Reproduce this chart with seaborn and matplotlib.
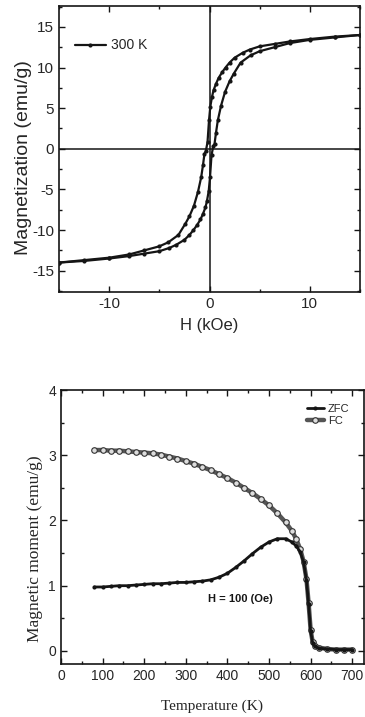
import matplotlib
matplotlib.use('Agg')
import matplotlib.pyplot as plt
from matplotlib.ticker import MultipleLocator
import seaborn as sns

# hysteresis loop at 300 K, field in kOe, magnetization in emu/g
H_down = [15, 12.5, 10, 8, 6.5, 5, 4, 3.3, 2.5, 2.0, 1.6, 1.25, 0.9, 0.65, 0.4, 0.25, 0.08,
          -0.05, -0.2, -0.37, -0.5, -0.65, -0.83, -1.15, -1.55, -2.0, -2.4, -3.1, -4.1, -5,
          -6.5, -8, -10, -12.5, -15]
M_down = [14.0, 13.8, 13.5, 13.2, 12.9, 12.6, 12.2, 11.8, 11.2, 10.6, 10.0, 9.4, 8.7, 8.0, 7.2, 6.4, 5.2,
          3.5, 0.8, -0.3, -0.6, -2.0, -3.5, -5.3, -7.0, -8.3, -9.2, -10.6, -11.5, -12.0,
          -12.5, -13.0, -13.4, -13.7, -14.0]
H_up = [-15, -12.5, -10, -8, -6.5, -5, -4, -3.3, -2.5, -2.0, -1.6, -1.25, -0.9, -0.65, -0.4, -0.25, -0.08,
        0.05, 0.2, 0.37, 0.5, 0.65, 0.83, 1.15, 1.55, 2.0, 2.4, 3.1, 4.1, 5,
        6.5, 8, 10, 12.5, 15]
M_up = [-14.0, -13.8, -13.5, -13.2, -12.9, -12.6, -12.2, -11.8, -11.2, -10.6, -10.0, -9.4, -8.7, -8.0, -7.2, -6.4, -5.2,
        -3.5, -0.8, 0.3, 0.6, 2.0, 3.5, 5.3, 7.0, 8.3, 9.2, 10.6, 11.5, 12.0,
        12.5, 13.0, 13.4, 13.7, 14.0]

# ZFC / FC curves, temperature in K, moment in emu/g
T_fc = [80, 100, 120, 140, 160, 180, 200, 220, 240, 260, 280, 300, 320, 340, 360, 380, 400, 420, 440,
        460, 480, 500, 520, 540, 555, 565, 575, 583, 590, 595, 600, 605, 610, 620, 640, 660, 680, 700]
M_fc = [3.08, 3.08, 3.07, 3.07, 3.06, 3.05, 3.04, 3.03, 3.01, 2.98, 2.95, 2.91, 2.87, 2.82, 2.77, 2.71, 2.65, 2.58, 2.50,
        2.42, 2.33, 2.23, 2.11, 1.97, 1.84, 1.72, 1.56, 1.37, 1.10, 0.74, 0.32, 0.13, 0.08, 0.05, 0.03, 0.02, 0.02, 0.02]
T_zfc = [80, 100, 120, 140, 160, 180, 200, 220, 240, 260, 280, 300, 320, 340, 360, 380, 400, 420, 440,
         460, 480, 500, 520, 540, 555, 565, 575, 583, 590, 595, 600, 605, 610, 620, 640, 660, 680, 700]
M_zfc = [0.98, 0.98, 0.99, 1.00, 1.00, 1.01, 1.02, 1.03, 1.03, 1.04, 1.05, 1.05, 1.06, 1.07, 1.09, 1.13, 1.19, 1.28, 1.38,
         1.49, 1.59, 1.67, 1.72, 1.72, 1.67, 1.61, 1.52, 1.36, 1.08, 0.72, 0.30, 0.12, 0.07, 0.04, 0.03, 0.02, 0.02, 0.02]

sns.set_style('ticks')
plt.rcParams['font.family'] = ['Liberation Sans', 'DejaVu Sans']
plt.rcParams['xtick.direction'] = 'in'
plt.rcParams['ytick.direction'] = 'in'

ink = '#151515'
serif = ['Liberation Serif', 'DejaVu Serif']
fig = plt.figure(figsize=(3.65, 7.17), dpi=100)

# ---- top panel: M(H) loop
ax1 = fig.add_axes([0.162, 0.593, 0.824, 0.399])
ax1.axhline(0, color=ink, lw=1.1)
ax1.axvline(0, color=ink, lw=1.1)
sns.lineplot(x=H_down, y=M_down, sort=False, estimator=None, color=ink, lw=1.6,
             marker='o', markersize=3, markeredgewidth=0, label='300 K', ax=ax1)
sns.lineplot(x=H_up, y=M_up, sort=False, estimator=None, color=ink, lw=1.6,
             marker='o', markersize=3, markeredgewidth=0, ax=ax1)
ax1.set_xlim(-15, 15)
ax1.set_ylim(-17.6, 17.6)
ax1.xaxis.set_major_locator(MultipleLocator(10))
ax1.xaxis.set_minor_locator(MultipleLocator(5))
ax1.yaxis.set_major_locator(MultipleLocator(5))
ax1.yaxis.set_minor_locator(MultipleLocator(2.5))
ax1.tick_params(which='both', top=True, right=True, color=ink, labelsize=11, width=1)
ax1.tick_params(which='major', length=4)
ax1.tick_params(which='minor', length=2.5)
ax1.set_xticks([-10, 0, 10])
ax1.set_xticklabels(['-10', '0', '10'])
ax1.set_yticks([-15, -10, -5, 0, 5, 10, 15])
ax1.set_yticklabels(['-15', '-10', '-5', '0', '5', '10', '15'])
ax1.set_xlabel('H (kOe)', fontsize=12, labelpad=5)
ax1.set_ylabel('Magnetization (emu/g)', fontsize=14, labelpad=0)
ax1.yaxis.set_label_coords(-0.09, 0.47)
for s in ax1.spines.values():
    s.set_linewidth(1.2)
    s.set_color(ink)
ax1.legend(loc='upper left', bbox_to_anchor=(0.03, 0.91), frameon=False, fontsize=10,
           handlelength=2.2, handletextpad=0.4, borderpad=0)

# ---- bottom panel: ZFC / FC
ax2 = fig.add_axes([0.167, 0.074, 0.83, 0.382])
sns.lineplot(x=T_fc, y=M_fc, sort=False, estimator=None, color='#555555', lw=3.2,
             marker='o', markersize=4, markerfacecolor='#dddddd', markeredgecolor='#333333',
             markeredgewidth=0.8, label='FC', ax=ax2)
sns.lineplot(x=T_zfc, y=M_zfc, sort=False, estimator=None, color=ink, lw=2.0,
             marker='o', markersize=3, markeredgewidth=0, label='ZFC', ax=ax2)
ax2.set_xlim(0, 728)
ax2.set_ylim(-0.2, 4)
ax2.xaxis.set_major_locator(MultipleLocator(100))
ax2.xaxis.set_minor_locator(MultipleLocator(50))
ax2.yaxis.set_major_locator(MultipleLocator(1))
ax2.yaxis.set_minor_locator(MultipleLocator(0.5))
ax2.tick_params(which='both', top=True, right=True, color=ink, labelsize=10, width=1)
ax2.tick_params(which='major', length=4)
ax2.tick_params(which='minor', length=2.5)
ax2.set_xlabel('Temperature (K)', fontsize=11, family=serif, labelpad=12)
ax2.set_ylabel('Magnetic moment (emu/g)', fontsize=12.5, family=serif)
ax2.yaxis.set_label_coords(-0.06, 0.42)
for s in ax2.spines.values():
    s.set_linewidth(1.2)
    s.set_color(ink)
ax2.text(430, 0.8, 'H = 100 (Oe)', fontsize=8, fontweight='bold', ha='center', va='center', color=ink)
handles, labels = ax2.get_legend_handles_labels()
ax2.legend(handles[::-1], labels[::-1], loc='upper right', bbox_to_anchor=(0.97, 0.97), frameon=False,
           fontsize=8, handlelength=1.6, handletextpad=0.3, borderpad=0, labelspacing=0.2)

fig.savefig('out.png', dpi=100)
